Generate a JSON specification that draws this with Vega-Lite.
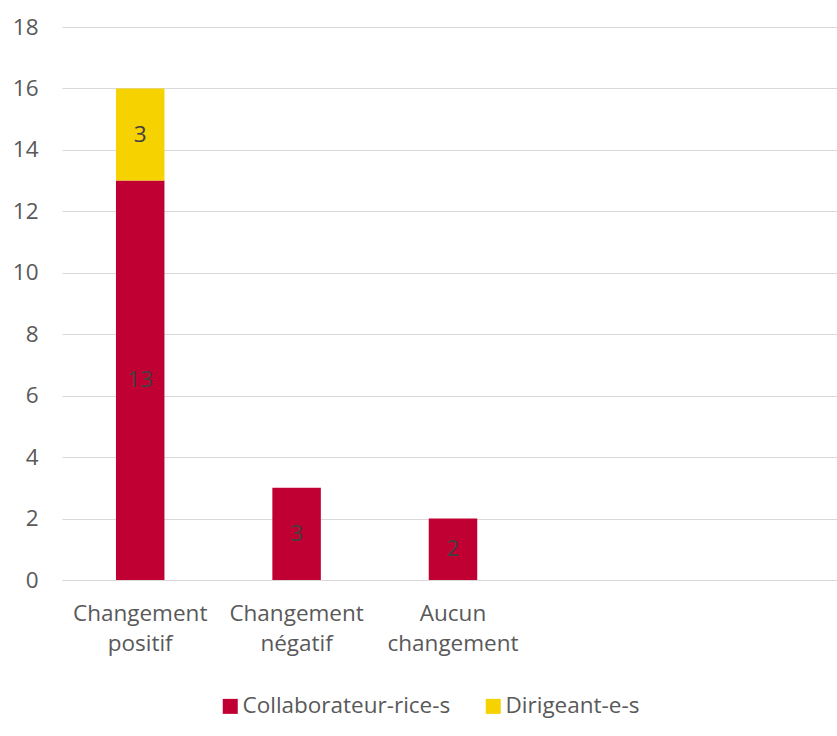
{
  "$schema": "https://vega.github.io/schema/vega-lite/v6.json",
  "autosize": {"type": "none"},
  "padding": {"left": 62, "top": 27, "right": 0, "bottom": 156},
  "width": 782,
  "height": 553,
  "background": "white",
  "config": {
    "view": {"stroke": null},
    "font": "Open Sans",
    "axis": {"labelFont": "Open Sans", "labelColor": "#595959", "labelFontSize": 22.5, "titleFontSize": 22.5}
  },
  "data": {
    "values": [
      {"categorie": "Changement positif", "groupe": "Collaborateur-rice-s", "valeur": 13},
      {"categorie": "Changement positif", "groupe": "Dirigeant-e-s", "valeur": 3},
      {"categorie": "Changement négatif", "groupe": "Collaborateur-rice-s", "valeur": 3},
      {"categorie": "Aucun changement", "groupe": "Collaborateur-rice-s", "valeur": 2}
    ]
  },
  "transform": [
    {"stack": "valeur", "groupby": ["categorie"], "sort": [{"field": "groupe", "order": "ascending"}], "as": ["v0", "v1"]},
    {"calculate": "(datum.v0 + datum.v1) / 2", "as": "mid"}
  ],
  "encoding": {
    "x": {
      "field": "categorie",
      "type": "nominal",
      "scale": {"domain": ["Changement positif", "Changement négatif", "Aucun changement", "_a", "_b"], "paddingInner": 0.69, "paddingOuter": 0.345},
      "axis": {
        "title": null,
        "labelAngle": 0,
        "ticks": false,
        "domain": true,
        "domainColor": "#d9d9d9",
        "domainWidth": 1,
        "labelPadding": 22,
        "labelLineHeight": 30,
        "labelBaseline": "top",
        "labelExpr": "datum.value == 'Changement positif' ? ['Changement', 'positif'] : datum.value == 'Changement négatif' ? ['Changement', 'négatif'] : datum.value == 'Aucun changement' ? ['Aucun', 'changement'] : ''"
      }
    }
  },
  "layer": [
    {
      "mark": {"type": "bar"},
      "encoding": {
        "y": {
          "field": "v0",
          "type": "quantitative",
          "scale": {"domain": [0, 18]},
          "axis": {
            "title": null,
            "values": [0, 2, 4, 6, 8, 10, 12, 14, 16, 18],
            "ticks": false,
            "domain": false,
            "grid": true,
            "gridColor": "#d9d9d9",
            "gridWidth": 1,
            "labelPadding": 24
          }
        },
        "y2": {"field": "v1"},
        "color": {
          "field": "groupe",
          "type": "nominal",
          "scale": {"domain": ["Collaborateur-rice-s", "Dirigeant-e-s"], "range": ["#C00033", "#F6D200"]},
          "legend": {
            "title": null,
            "orient": "none",
            "direction": "horizontal",
            "legendX": 157,
            "legendY": 668,
            "symbolType": "square",
            "symbolSize": 225,
            "symbolStrokeWidth": 0,
            "symbolOpacity": 1,
            "labelFont": "Open Sans",
            "labelFontSize": 22.5,
            "labelColor": "#595959",
            "labelOffset": 1,
            "labelLimit": 0,
            "columnPadding": 31
          }
        }
      }
    },
    {
      "mark": {"type": "text", "font": "Open Sans", "fontSize": 22.5, "color": "#404040", "baseline": "middle", "align": "center"},
      "encoding": {
        "y": {"field": "mid", "type": "quantitative"},
        "text": {"field": "valeur", "type": "quantitative"}
      }
    }
  ]
}
